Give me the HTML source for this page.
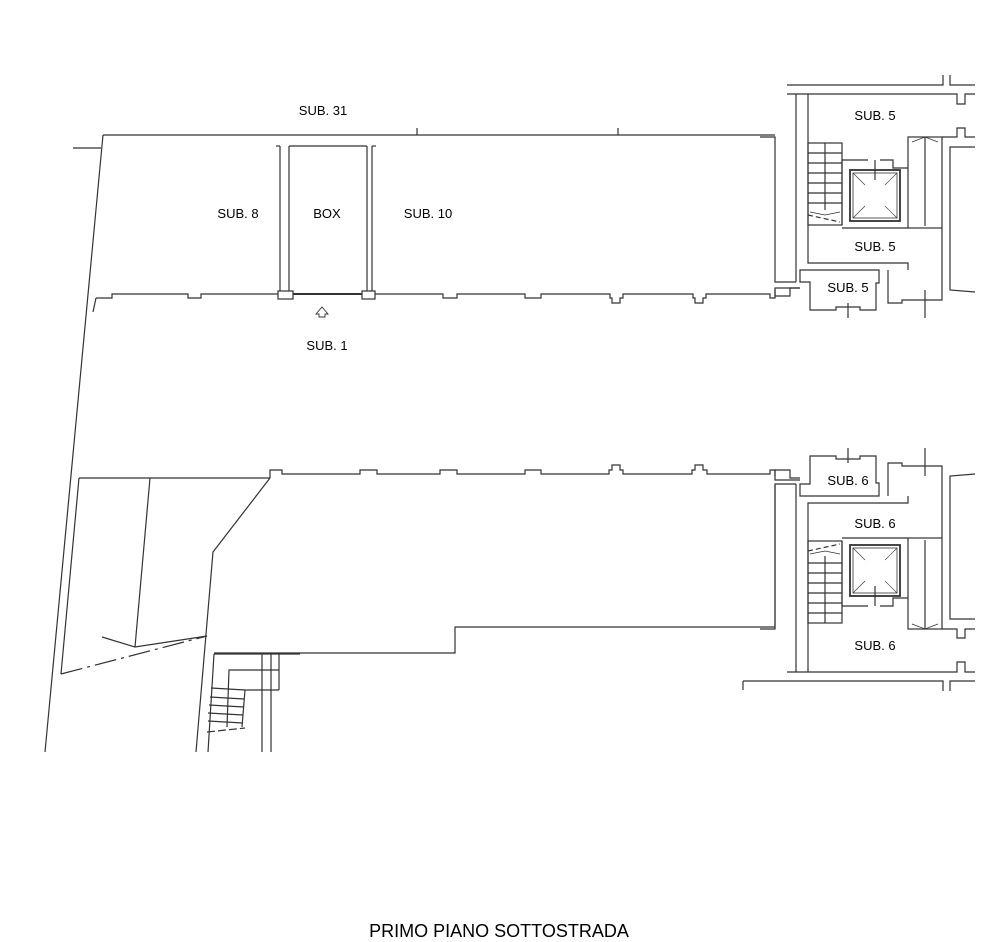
<!DOCTYPE html>
<html><head><meta charset="utf-8"><style>
html,body{margin:0;padding:0;background:#fff;}
svg{display:block;}
text{font-family:"Liberation Sans",sans-serif;font-size:13px;fill:#000;}
</style></head><body>
<svg width="998" height="942" viewBox="0 0 998 942" xmlns="http://www.w3.org/2000/svg">
<g fill="none" stroke="#333" stroke-width="1.2">
<line x1="103" y1="135" x2="775" y2="135"/>
<line x1="417" y1="128" x2="417" y2="135"/><line x1="618" y1="128" x2="618" y2="135"/>
<line x1="73" y1="148" x2="101" y2="148"/>
<line x1="103" y1="135" x2="45" y2="752"/>
<line x1="96" y1="298" x2="93" y2="312"/>
<polyline points="96,298 112,298 112,294 188,294 188,298 201,298 201,294 278,294"/>
<rect x="278" y="291" width="15" height="8"/>
<rect x="362" y="291" width="13" height="8"/>
<line x1="280" y1="146" x2="280" y2="291"/><line x1="289" y1="146" x2="289" y2="291"/>
<line x1="276" y1="146" x2="280" y2="146"/>
<line x1="289" y1="146" x2="367" y2="146"/>
<line x1="367" y1="146" x2="367" y2="291"/><line x1="372" y1="146" x2="372" y2="291"/><line x1="372" y1="146" x2="376" y2="146"/>
<line x1="293" y1="294" x2="362" y2="294" stroke-width="2"/>
<polyline points="375,294 443,294 443,298 457,298 457,294 525,294 525,298 541,298 541,294 610,294 610,298 612,298 612,303 620,303 620,298 623,298 623,294 693,294 693,298 695,298 695,303 703,303 703,298 706,298 706,294 770,294 770,298 775,298 775,288 800,288"/>
<path d="M316,314 L322,307 L328,314 L325,314 L325,317 L319,317 L319,314 Z" stroke-width="0.9"/>
<line x1="79" y1="478" x2="270" y2="478"/>
<polyline points="270,478 270,470 282,470 282,474 360,474 360,470 377,470 377,474 440,474 440,470 457,470 457,474 525,474 525,470 541,470 541,474 609,474 609,470 612,470 612,465 620,465 620,470 623,470 623,474 692,474 692,470 695,470 695,465 703,465 703,470 707,470 707,474 770,474 770,470 775,470 775,480 800,480"/>
<polyline points="270,478 213,552 196,752"/>
<polyline points="775,485 775,627 455,627 455,653 214,653"/>
<line x1="79" y1="478" x2="61" y2="674"/>
<line x1="150" y1="478" x2="135" y2="647"/>
<polyline points="102,637 135,647 207,636"/>
<line x1="61" y1="674" x2="207" y2="636" stroke-dasharray="22,5,3,5"/>
<line x1="214" y1="654" x2="208" y2="752"/>
<line x1="214" y1="654" x2="300" y2="654"/>
<line x1="262" y1="654" x2="262" y2="752"/><line x1="271" y1="654" x2="271" y2="752"/>
<line x1="279" y1="654" x2="279" y2="690"/>
<polyline points="279,670 229,670 227,727"/>
<polyline points="279,690 245,690 242,727"/>
<line x1="211" y1="688" x2="245" y2="690"/><line x1="210" y1="697" x2="244" y2="699"/>
<line x1="209" y1="705" x2="244" y2="707"/><line x1="208" y1="713" x2="243" y2="715"/>
<line x1="208" y1="721" x2="243" y2="723"/>
<line x1="207" y1="732" x2="245" y2="728" stroke-dasharray="8,3"/>
</g>
<g id="core" fill="none" stroke="#333" stroke-width="1.2">
<polyline points="787,85 943,85 943,75"/><polyline points="950,75 950,85 975,85"/>
<polyline points="787,94 957,94 957,104 965,104 965,94 975,94"/>
<polyline points="760,137 775,137 775,282 796,282"/>
<line x1="796" y1="94" x2="796" y2="282"/>
<polyline points="808,94 808,263 908,263 908,270"/>
<polyline points="775,290 775,296 790,296 790,288 800,288"/>
<polygon points="800,270 879,270 879,283 876,283 876,310 860,310 860,307 836,307 836,310 810,310 810,282 800,282"/>
<polyline points="888,270 888,303 902,303 902,300 942,300 942,228"/>
<line x1="848" y1="303" x2="848" y2="318"/><line x1="925" y1="290" x2="925" y2="318"/>
<rect x="908" y="137" width="34" height="91"/>
<line x1="925" y1="137" x2="925" y2="226"/>
<polyline points="912,142 925,137 938,142" stroke-width="0.8"/>
<line x1="842" y1="228" x2="908" y2="228"/>
<polyline points="942,137 957,137 957,128 965,128 965,137 975,137"/>
<polyline points="975,147 950,147 950,290 975,292"/>
<rect x="808" y="143" width="34" height="82"/>
<line x1="808" y1="153" x2="842" y2="153"/><line x1="808" y1="163" x2="842" y2="163"/>
<line x1="808" y1="173" x2="842" y2="173"/><line x1="808" y1="183" x2="842" y2="183"/>
<line x1="808" y1="193" x2="842" y2="193"/><line x1="808" y1="203" x2="842" y2="203"/>
<line x1="825" y1="143" x2="825" y2="210"/>
<polyline points="810,212 825,215 840,212" stroke-width="0.8"/>
<line x1="808" y1="215" x2="840" y2="222" stroke-dasharray="5,3"/>
<polyline points="842,225 842,160 868,160"/><polyline points="880,160 893,160 893,168 908,168"/>
<rect x="850" y="170" width="50" height="51" stroke-width="1.8"/>
<rect x="853" y="173" width="44" height="45" stroke-width="0.8"/>
<line x1="853" y1="173" x2="865" y2="185" stroke-width="0.6"/><line x1="897" y1="173" x2="885" y2="185" stroke-width="0.6"/>
<line x1="853" y1="218" x2="865" y2="206" stroke-width="0.6"/><line x1="897" y1="218" x2="885" y2="206" stroke-width="0.6"/>
<line x1="875" y1="160" x2="875" y2="180"/>
</g>
<use href="#core" transform="matrix(1,0,0,-1,0,766)"/>
<g fill="none" stroke="#333" stroke-width="1.2">
<line x1="743" y1="681" x2="787" y2="681"/>
<line x1="743" y1="681" x2="743" y2="690"/>
</g>
<text x="323" y="115" text-anchor="middle">SUB. 31</text>
<text x="238" y="218" text-anchor="middle">SUB. 8</text>
<text x="327" y="218" text-anchor="middle">BOX</text>
<text x="428" y="218" text-anchor="middle">SUB. 10</text>
<text x="327" y="350" text-anchor="middle">SUB. 1</text>
<text x="875" y="120" text-anchor="middle">SUB. 5</text>
<text x="875" y="251" text-anchor="middle">SUB. 5</text>
<text x="848" y="292" text-anchor="middle">SUB. 5</text>
<text x="848" y="485" text-anchor="middle">SUB. 6</text>
<text x="875" y="528" text-anchor="middle">SUB. 6</text>
<text x="875" y="650" text-anchor="middle">SUB. 6</text>
<text x="499" y="937" text-anchor="middle" style="font-size:18px">PRIMO PIANO SOTTOSTRADA</text>
</svg>
</body></html>
